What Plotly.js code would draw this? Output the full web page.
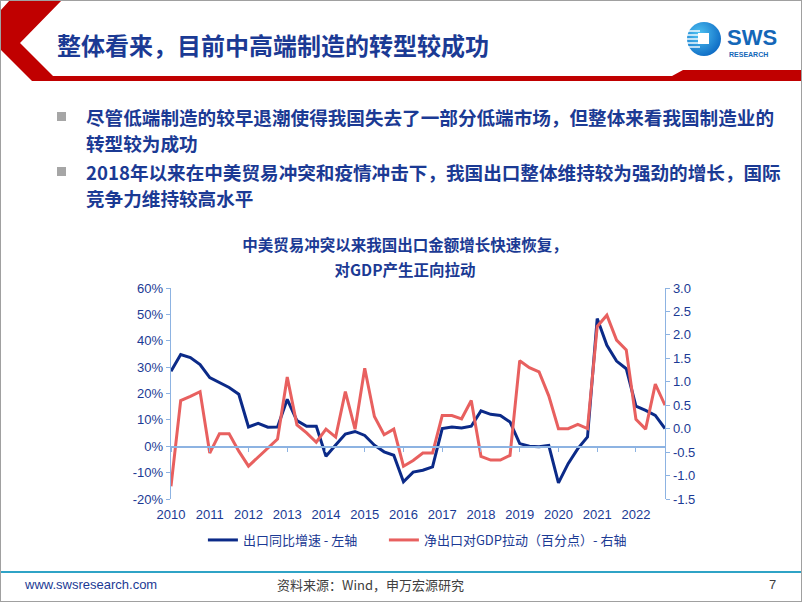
<!DOCTYPE html>
<html>
<head>
<meta charset="utf-8">
<script src="https://cdn.plot.ly/plotly-3.0.1.min.js"></script>
<style>
  html, body { margin: 0; padding: 0; background: #fff; }
  #page { position: relative; width: 802px; height: 602px; overflow: hidden; background: #fff;
          font-family: "Noto Sans CJK SC", "Liberation Sans", sans-serif; }
  #chart { position: absolute; left: 0; top: 0; width: 802px; height: 602px; }
  .ov { position: absolute; pointer-events: none; }
  .blue { color: #1B3A94; font-weight: bold; }
  .bullet { position: absolute; width: 9px; height: 9px; background: #A6A6A6; }
</style>
</head>
<body>
<div id="page">
  <div id="chart"></div>

  <svg class="ov" style="left:0;top:0" width="802" height="90">
    <polygon points="0,11 10,0 62,0 20,43 53,76 672,76 683,70 802,70 802,81 32,81 0,49" fill="#C00000"/>
    <defs>
      <radialGradient id="lg" cx="0.35" cy="0.35" r="0.75">
        <stop offset="0" stop-color="#4FC3F2"/>
        <stop offset="1" stop-color="#0A66C2"/>
      </radialGradient>
    </defs>
    <circle cx="704" cy="39" r="17" fill="url(#lg)"/>
    <g stroke="#fff" stroke-width="1.4">
      <line x1="688" y1="31" x2="700" y2="31"/>
      <line x1="687" y1="35" x2="698" y2="35"/>
      <line x1="687" y1="39" x2="698" y2="39"/>
      <line x1="687" y1="43" x2="698" y2="43"/>
      <line x1="688" y1="47" x2="700" y2="47"/>
    </g>
    <rect x="698" y="33" width="11" height="11" fill="#fff"/>
    <text x="727" y="45" font-family="Liberation Sans, Arial, sans-serif" font-weight="bold" font-size="22" fill="#1467B8">SWS</text>
    <text x="729" y="57" font-family="Liberation Sans, Arial, sans-serif" font-weight="bold" font-size="7" fill="#1467B8">RESEARCH</text>
  </svg>

  <div class="ov blue" style="left:57px;top:31px;font-size:24px;line-height:28px;white-space:nowrap;">整体看来，目前中高端制造的转型较成功</div>

  <div class="bullet" style="left:57px;top:112px;"></div>
  <div class="ov blue" style="left:86px;top:104px;font-size:18.6px;line-height:26px;white-space:nowrap;">尽管低端制造的较早退潮使得我国失去了一部分低端市场，但整体来看我国制造业的<br>转型较为成功</div>
  <div class="bullet" style="left:57px;top:167px;"></div>
  <div class="ov blue" style="left:86px;top:159px;font-size:18.6px;line-height:26px;white-space:nowrap;">2018年以来在中美贸易冲突和疫情冲击下，我国出口整体维持较为强劲的增长，国际<br>竞争力维持较高水平</div>

  <div class="ov blue" style="left:205px;width:400px;top:232px;font-size:15.5px;line-height:25px;text-align:center;">中美贸易冲突以来我国出口金额增长快速恢复，<br>对GDP产生正向拉动</div>

  <div class="ov" style="left:0;top:571px;width:802px;height:2px;background:#2FA3C6;"></div>
  <div class="ov" style="left:25px;top:577px;font-size:13px;line-height:16px;color:#1B3A94;font-family:'Liberation Sans',Arial,sans-serif;">www.swsresearch.com</div>
  <div class="ov" style="left:277px;top:577px;font-size:13px;line-height:16px;color:#404040;">资料来源：Wind，申万宏源研究</div>
  <div class="ov" style="left:769px;top:577px;font-size:13px;line-height:16px;color:#404040;font-family:'Liberation Sans',Arial,sans-serif;">7</div>

  <div class="ov" style="left:0;top:0;width:802px;height:602px;box-sizing:border-box;border:1px solid #A0A0A0;"></div>
</div>

<script>
// Quarterly observations, 2010Q1 .. 2022Q4
const startYear = 2010;
const yearLabels = ['2010','2011','2012','2013','2014','2015','2016','2017','2018','2019','2020','2021','2022'];

// 出口同比增速 (%), left axis
const exportGrowth = [
  28.4, 34.8, 33.6, 31.0,
  26.0, 24.0, 22.3, 19.7,
  7.3, 8.7, 7.2, 7.3,
  17.8, 9.7, 7.6, 7.6,
  -3.8, 0.5, 4.6, 5.6,
  4.1, 0.4, -2.1, -3.4,
  -13.5, -9.8, -9.1, -7.8,
  6.7, 7.3, 6.9, 7.6,
  13.4, 12.1, 11.7, 9.2,
  1.0, 0.0, -0.2, 0.3,
  -13.9, -6.6, -0.9, 3.5,
  48.4, 38.3, 32.3, 29.4,
  15.2, 13.6, 11.7, 6.7
];

// 净出口对GDP拉动 (百分点), right axis
const netExportPull = [
  -1.23, 0.60, 0.69, 0.79,
  -0.52, -0.11, -0.11, -0.48,
  -0.80, -0.60, -0.41, -0.22,
  1.10, 0.08, -0.09, -0.29,
  -0.01, -0.18, 0.79, -0.01,
  1.29, 0.26, -0.13, -0.01,
  -0.80, -0.68, -0.52, -0.52,
  0.28, 0.28, 0.21, 0.60,
  -0.59, -0.67, -0.67, -0.57,
  1.45, 1.30, 1.21, 0.70,
  0.00, 0.00, 0.09, 0.00,
  2.18, 2.42, 1.89, 1.68,
  0.20, -0.01, 0.95, 0.50
];

const leftTickVals = [-20, -10, 0, 10, 20, 30, 40, 50, 60];
const leftTickText = ['-20%', '-10%', '0%', '10%', '20%', '30%', '40%', '50%', '60%'];
const rightTickVals = [-1.5, -1.0, -0.5, 0.0, 0.5, 1.0, 1.5, 2.0, 2.5, 3.0];
const rightTickText = ['-1.5', '-1.0', '-0.5', '0.0', '0.5', '1.0', '1.5', '2.0', '2.5', '3.0'];

const seriesNames = ['出口同比增速 - 左轴', '净出口对GDP拉动（百分点）- 右轴'];

const xq = exportGrowth.map((_, i) => startYear + i / 4);
const yearVals = yearLabels.map(Number);

const axisColor = '#8DB3E2';
const textColor = '#1B3A94';
const numFont = 'Liberation Sans, Arial, Noto Sans CJK SC, sans-serif';

const traces = [
  { x: xq, y: exportGrowth, type: 'scatter', mode: 'lines', name: seriesNames[0],
    line: { color: '#0B2A88', width: 3 }, yaxis: 'y', legendwidth: 136 },
  { x: xq, y: netExportPull, type: 'scatter', mode: 'lines', name: seriesNames[1],
    line: { color: '#E8605F', width: 3 }, yaxis: 'y2', legendwidth: 215 }
];

const layout = {
  width: 802, height: 602, autosize: false,
  paper_bgcolor: 'rgba(0,0,0,0)', plot_bgcolor: 'rgba(0,0,0,0)',
  margin: { l: 171, r: 137, t: 288, b: 103, pad: 0 },
  font: { family: numFont, size: 13, color: textColor },
  showlegend: true,
  legend: {
    orientation: 'h', xref: 'container', yref: 'container',
    x: 0.253, y: 0.103, xanchor: 'left', yanchor: 'middle',
    font: { family: 'Noto Sans CJK SC, Liberation Sans, sans-serif', size: 13, color: textColor },
    bgcolor: 'rgba(0,0,0,0)'
  },
  xaxis: {
    range: [2010, 2022.75], anchor: 'free', position: 0.25,
    tickmode: 'array', tickvals: yearVals, ticktext: yearLabels,
    showline: true, linecolor: axisColor, linewidth: 1.3,
    ticks: 'outside', ticklen: 4, tickcolor: axisColor, tickwidth: 1,
    ticklabelstandoff: 52,
    showgrid: false, zeroline: false,
    tickfont: { family: numFont, size: 13, color: textColor }
  },
  yaxis: {
    range: [-20, 60], tickmode: 'array', tickvals: leftTickVals, ticktext: leftTickText,
    showline: true, linecolor: axisColor, linewidth: 1.3,
    ticks: 'outside', ticklen: 4, tickcolor: axisColor,
    showgrid: false, zeroline: false,
    tickfont: { family: numFont, size: 13, color: textColor }
  },
  yaxis2: {
    range: [-1.5, 3.0], overlaying: 'y', side: 'right',
    tickmode: 'array', tickvals: rightTickVals, ticktext: rightTickText,
    showline: true, linecolor: axisColor, linewidth: 1.3,
    ticks: 'outside', ticklen: 4, tickcolor: axisColor,
    showgrid: false, zeroline: false,
    tickfont: { family: numFont, size: 13, color: textColor }
  }
};

Plotly.newPlot('chart', traces, layout, { staticPlot: true, displayModeBar: false });
</script>
</body>
</html>
